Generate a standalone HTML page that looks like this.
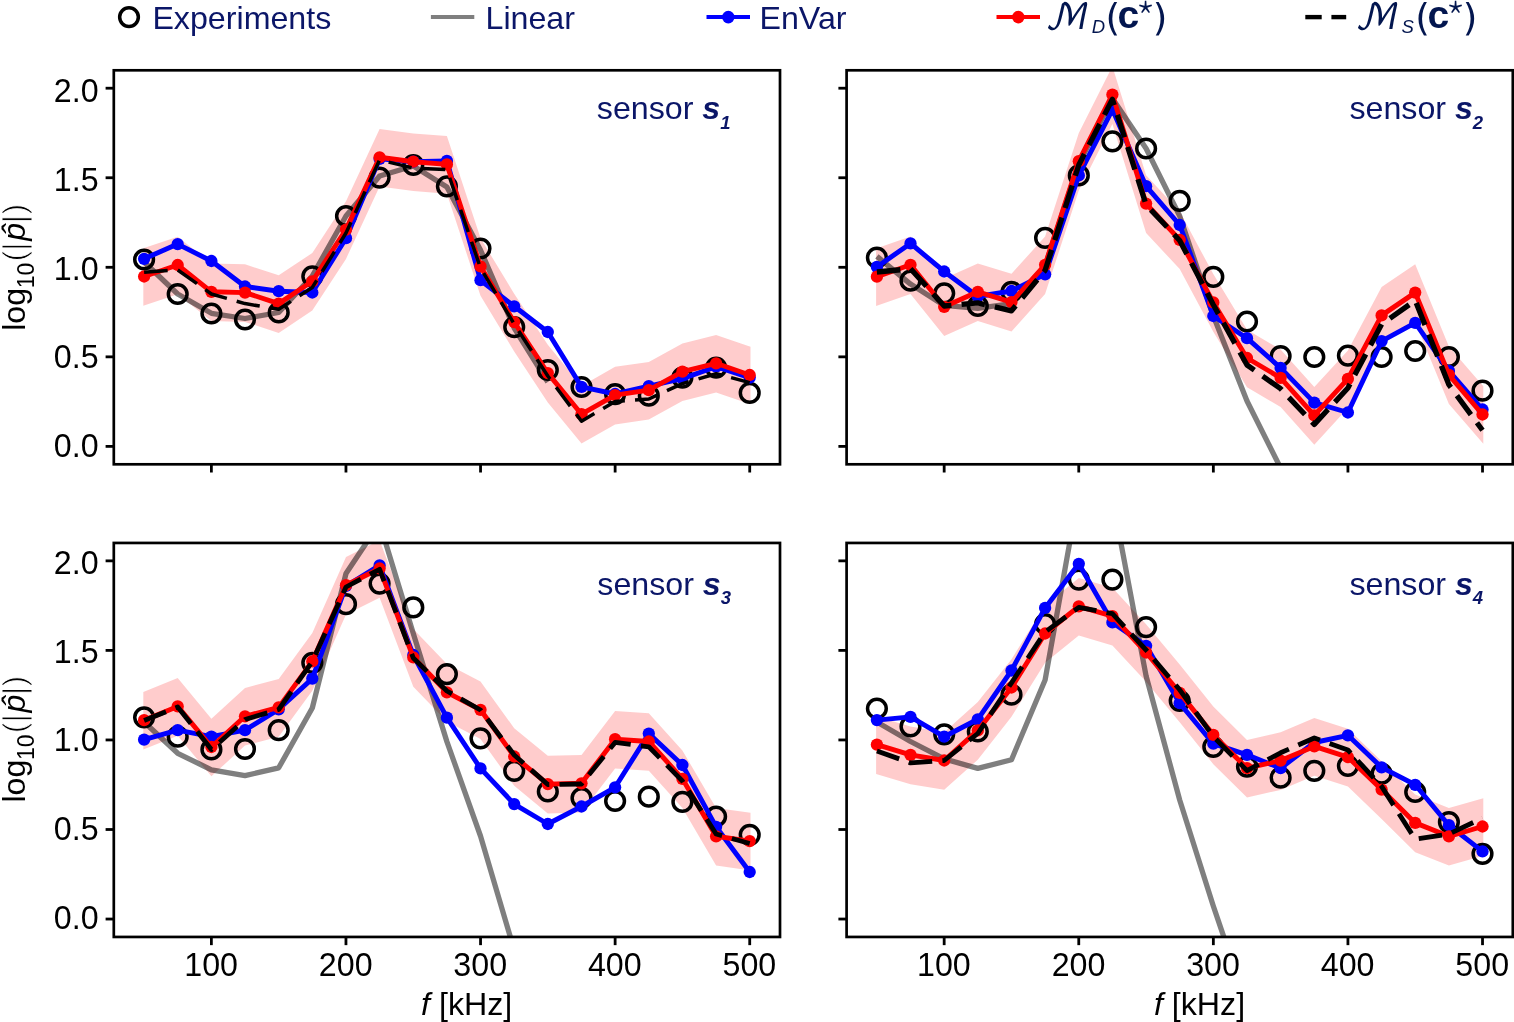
<!DOCTYPE html>
<html lang="en"><head><meta charset="utf-8"><title>Sensor spectra</title>
<style>html,body{margin:0;padding:0;background:#fff}body{width:1514px;height:1022px;overflow:hidden}svg{display:block}text{font-family:"Liberation Sans", "DejaVu Sans", sans-serif;font-size:32.2px}</style>
</head><body>
<svg width="1514" height="1022" viewBox="0 0 1514 1022">
<rect width="1514" height="1022" fill="#fff"/>
<defs>
<clipPath id="c1"><rect x="113.8" y="70.3" width="666.2" height="394.0"/></clipPath>
<clipPath id="c2"><rect x="846.6" y="70.3" width="666.2" height="394.0"/></clipPath>
<clipPath id="c3"><rect x="113.8" y="543.0" width="666.2" height="394.0"/></clipPath>
<clipPath id="c4"><rect x="846.6" y="543.0" width="666.2" height="394.0"/></clipPath>
</defs>
<g clip-path="url(#c1)">
<polygon points="143.3,248.2 177.7,236.7 211.4,263.5 245.0,264.3 278.7,275.3 312.3,253.0 346.0,201.3 379.6,129.0 413.3,133.4 446.9,136.1 480.5,238.1 514.2,293.8 547.8,344.8 581.5,385.9 615.1,366.8 648.8,361.9 682.4,343.4 716.1,335.0 750.5,346.7 750.5,404.3 716.1,392.6 682.4,401.0 648.8,419.5 615.1,424.4 581.5,443.5 547.8,402.4 514.2,351.4 480.5,295.7 446.9,193.7 413.3,191.0 379.6,186.6 346.0,258.9 312.3,310.6 278.7,332.9 245.0,321.9 211.4,321.1 177.7,294.3 143.3,305.8" fill="#ff0000" fill-opacity="0.2"/>
<polyline points="144.1,262.0 177.7,294.0 211.4,313.3 245.0,318.5 278.7,312.5 312.3,276.0 346.0,216.0 379.6,176.0 413.3,166.0 446.9,187.0 480.5,250.0 514.2,328.0 547.8,382.0" fill="none" stroke="#000" stroke-opacity="0.5" stroke-width="5.30" stroke-linejoin="round"/>
<g fill="none" stroke="#000" stroke-width="3.50">
<circle cx="144.1" cy="259.5" r="9.35"/>
<circle cx="177.7" cy="294.0" r="9.35"/>
<circle cx="211.4" cy="313.5" r="9.35"/>
<circle cx="245.0" cy="319.5" r="9.35"/>
<circle cx="278.7" cy="312.5" r="9.35"/>
<circle cx="312.3" cy="276.3" r="9.35"/>
<circle cx="346.0" cy="216.0" r="9.35"/>
<circle cx="379.6" cy="177.6" r="9.35"/>
<circle cx="413.3" cy="165.0" r="9.35"/>
<circle cx="446.9" cy="186.3" r="9.35"/>
<circle cx="480.5" cy="248.5" r="9.35"/>
<circle cx="514.2" cy="327.1" r="9.35"/>
<circle cx="547.8" cy="370.0" r="9.35"/>
<circle cx="581.5" cy="387.0" r="9.35"/>
<circle cx="615.1" cy="394.2" r="9.35"/>
<circle cx="648.8" cy="395.7" r="9.35"/>
<circle cx="682.4" cy="377.6" r="9.35"/>
<circle cx="716.1" cy="367.7" r="9.35"/>
<circle cx="749.7" cy="392.9" r="9.35"/>
</g>
<polyline points="144.1,258.8 177.7,244.1 211.4,261.0 245.0,286.5 278.7,291.2 312.3,292.5 346.0,238.2 379.6,158.8 413.3,161.7 446.9,160.9 480.5,280.2 514.2,306.3 547.8,332.0 581.5,386.8 615.1,394.0 648.8,386.2 682.4,378.6 716.1,366.7 749.7,377.6" fill="none" stroke="#0000ff" stroke-width="4.90" stroke-linejoin="round"/>
<g fill="#0000ff">
<circle cx="144.1" cy="258.8" r="6.15"/>
<circle cx="177.7" cy="244.1" r="6.15"/>
<circle cx="211.4" cy="261.0" r="6.15"/>
<circle cx="245.0" cy="286.5" r="6.15"/>
<circle cx="278.7" cy="291.2" r="6.15"/>
<circle cx="312.3" cy="292.5" r="6.15"/>
<circle cx="346.0" cy="238.2" r="6.15"/>
<circle cx="379.6" cy="158.8" r="6.15"/>
<circle cx="413.3" cy="161.7" r="6.15"/>
<circle cx="446.9" cy="160.9" r="6.15"/>
<circle cx="480.5" cy="280.2" r="6.15"/>
<circle cx="514.2" cy="306.3" r="6.15"/>
<circle cx="547.8" cy="332.0" r="6.15"/>
<circle cx="581.5" cy="386.8" r="6.15"/>
<circle cx="615.1" cy="394.0" r="6.15"/>
<circle cx="648.8" cy="386.2" r="6.15"/>
<circle cx="682.4" cy="378.6" r="6.15"/>
<circle cx="716.1" cy="366.7" r="6.15"/>
<circle cx="749.7" cy="377.6" r="6.15"/>
</g>
<polyline points="144.1,276.5 177.7,265.0 211.4,291.8 245.0,292.6 278.7,303.6 312.3,281.3 346.0,229.6 379.6,157.3 413.3,161.7 446.9,164.4 480.5,266.4 514.2,322.1 547.8,373.1 581.5,414.2 615.1,395.1 648.8,390.2 682.4,371.7 716.1,363.3 749.7,375.0" fill="none" stroke="#ff0000" stroke-width="4.90" stroke-linejoin="round"/>
<g fill="#ff0000">
<circle cx="144.1" cy="276.5" r="6.15"/>
<circle cx="177.7" cy="265.0" r="6.15"/>
<circle cx="211.4" cy="291.8" r="6.15"/>
<circle cx="245.0" cy="292.6" r="6.15"/>
<circle cx="278.7" cy="303.6" r="6.15"/>
<circle cx="312.3" cy="281.3" r="6.15"/>
<circle cx="346.0" cy="229.6" r="6.15"/>
<circle cx="379.6" cy="157.3" r="6.15"/>
<circle cx="413.3" cy="161.7" r="6.15"/>
<circle cx="446.9" cy="164.4" r="6.15"/>
<circle cx="480.5" cy="266.4" r="6.15"/>
<circle cx="514.2" cy="322.1" r="6.15"/>
<circle cx="547.8" cy="373.1" r="6.15"/>
<circle cx="581.5" cy="414.2" r="6.15"/>
<circle cx="615.1" cy="395.1" r="6.15"/>
<circle cx="648.8" cy="390.2" r="6.15"/>
<circle cx="682.4" cy="371.7" r="6.15"/>
<circle cx="716.1" cy="363.3" r="6.15"/>
<circle cx="749.7" cy="375.0" r="6.15"/>
</g>
<polyline points="144.1,272.3 177.7,269.9 211.4,294.0 245.0,303.6 278.7,309.3 312.3,287.5 346.0,233.0 379.6,160.0 413.3,168.0 446.9,169.6 480.5,268.0 514.2,324.0 547.8,376.0 581.5,421.2 615.1,401.4 648.8,399.0 682.4,383.6 716.1,373.7 749.7,382.6" fill="none" stroke="#000" stroke-width="3.50" stroke-dasharray="23.6 10.2" stroke-linejoin="round"/>
</g>
<g clip-path="url(#c2)">
<polygon points="876.1,248.4 910.5,236.5 944.2,278.5 977.8,263.5 1011.5,273.8 1045.1,236.5 1078.8,132.9 1112.4,66.3 1146.1,175.3 1179.7,211.5 1213.3,274.1 1247.0,329.7 1280.6,349.5 1314.3,387.1 1347.9,350.5 1381.6,287.1 1415.2,264.3 1448.9,346.5 1483.3,386.2 1483.3,443.8 1448.9,404.1 1415.2,321.9 1381.6,344.7 1347.9,408.1 1314.3,444.7 1280.6,407.1 1247.0,387.3 1213.3,331.7 1179.7,269.1 1146.1,232.9 1112.4,123.9 1078.8,190.5 1045.1,294.1 1011.5,331.4 977.8,321.1 944.2,336.1 910.5,294.1 876.1,306.0" fill="#ff0000" fill-opacity="0.2"/>
<polyline points="876.9,256.4 910.5,284.1 944.2,305.4 977.8,308.4 1011.5,303.5 1045.1,266.0 1078.8,163.5 1112.4,98.5 1146.1,148.5 1179.7,216.0 1213.3,315.8 1247.0,401.0 1280.6,468.0" fill="none" stroke="#000" stroke-opacity="0.5" stroke-width="5.30" stroke-linejoin="round"/>
<g fill="none" stroke="#000" stroke-width="3.50">
<circle cx="876.9" cy="257.7" r="9.35"/>
<circle cx="910.5" cy="280.7" r="9.35"/>
<circle cx="944.2" cy="293.3" r="9.35"/>
<circle cx="977.8" cy="306.0" r="9.35"/>
<circle cx="1011.5" cy="291.8" r="9.35"/>
<circle cx="1045.1" cy="237.9" r="9.35"/>
<circle cx="1078.8" cy="175.4" r="9.35"/>
<circle cx="1112.4" cy="141.3" r="9.35"/>
<circle cx="1146.1" cy="148.5" r="9.35"/>
<circle cx="1179.7" cy="200.8" r="9.35"/>
<circle cx="1213.3" cy="276.9" r="9.35"/>
<circle cx="1247.0" cy="321.5" r="9.35"/>
<circle cx="1280.6" cy="356.0" r="9.35"/>
<circle cx="1314.3" cy="357.0" r="9.35"/>
<circle cx="1347.9" cy="355.6" r="9.35"/>
<circle cx="1381.6" cy="357.0" r="9.35"/>
<circle cx="1415.2" cy="351.0" r="9.35"/>
<circle cx="1448.9" cy="357.0" r="9.35"/>
<circle cx="1482.5" cy="390.7" r="9.35"/>
</g>
<polyline points="876.9,266.9 910.5,243.4 944.2,271.5 977.8,296.5 1011.5,291.0 1045.1,274.3 1078.8,175.4 1112.4,109.6 1146.1,186.2 1179.7,225.0 1213.3,316.0 1247.0,338.2 1280.6,367.9 1314.3,402.6 1347.9,412.5 1381.6,341.1 1415.2,322.9 1448.9,370.9 1482.5,409.5" fill="none" stroke="#0000ff" stroke-width="4.90" stroke-linejoin="round"/>
<g fill="#0000ff">
<circle cx="876.9" cy="266.9" r="6.15"/>
<circle cx="910.5" cy="243.4" r="6.15"/>
<circle cx="944.2" cy="271.5" r="6.15"/>
<circle cx="977.8" cy="296.5" r="6.15"/>
<circle cx="1011.5" cy="291.0" r="6.15"/>
<circle cx="1045.1" cy="274.3" r="6.15"/>
<circle cx="1078.8" cy="175.4" r="6.15"/>
<circle cx="1112.4" cy="109.6" r="6.15"/>
<circle cx="1146.1" cy="186.2" r="6.15"/>
<circle cx="1179.7" cy="225.0" r="6.15"/>
<circle cx="1213.3" cy="316.0" r="6.15"/>
<circle cx="1247.0" cy="338.2" r="6.15"/>
<circle cx="1280.6" cy="367.9" r="6.15"/>
<circle cx="1314.3" cy="402.6" r="6.15"/>
<circle cx="1347.9" cy="412.5" r="6.15"/>
<circle cx="1381.6" cy="341.1" r="6.15"/>
<circle cx="1415.2" cy="322.9" r="6.15"/>
<circle cx="1448.9" cy="370.9" r="6.15"/>
<circle cx="1482.5" cy="409.5" r="6.15"/>
</g>
<polyline points="876.9,276.7 910.5,264.8 944.2,306.8 977.8,291.8 1011.5,302.1 1045.1,264.8 1078.8,161.2 1112.4,94.6 1146.1,203.6 1179.7,239.8 1213.3,302.4 1247.0,358.0 1280.6,377.8 1314.3,415.4 1347.9,378.8 1381.6,315.4 1415.2,292.6 1448.9,374.8 1482.5,414.5" fill="none" stroke="#ff0000" stroke-width="4.90" stroke-linejoin="round"/>
<g fill="#ff0000">
<circle cx="876.9" cy="276.7" r="6.15"/>
<circle cx="910.5" cy="264.8" r="6.15"/>
<circle cx="944.2" cy="306.8" r="6.15"/>
<circle cx="977.8" cy="291.8" r="6.15"/>
<circle cx="1011.5" cy="302.1" r="6.15"/>
<circle cx="1045.1" cy="264.8" r="6.15"/>
<circle cx="1078.8" cy="161.2" r="6.15"/>
<circle cx="1112.4" cy="94.6" r="6.15"/>
<circle cx="1146.1" cy="203.6" r="6.15"/>
<circle cx="1179.7" cy="239.8" r="6.15"/>
<circle cx="1213.3" cy="302.4" r="6.15"/>
<circle cx="1247.0" cy="358.0" r="6.15"/>
<circle cx="1280.6" cy="377.8" r="6.15"/>
<circle cx="1314.3" cy="415.4" r="6.15"/>
<circle cx="1347.9" cy="378.8" r="6.15"/>
<circle cx="1381.6" cy="315.4" r="6.15"/>
<circle cx="1415.2" cy="292.6" r="6.15"/>
<circle cx="1448.9" cy="374.8" r="6.15"/>
<circle cx="1482.5" cy="414.5" r="6.15"/>
</g>
<polyline points="876.9,272.0 910.5,268.8 944.2,306.0 977.8,302.9 1011.5,310.8 1045.1,270.4 1078.8,165.0 1112.4,99.3 1146.1,204.8 1179.7,240.5 1213.3,304.7 1247.0,365.0 1280.6,388.7 1314.3,424.4 1347.9,388.0 1381.6,324.3 1415.2,300.5 1448.9,384.7 1482.5,430.3" fill="none" stroke="#000" stroke-width="5.30" stroke-dasharray="23.6 10.2" stroke-linejoin="round"/>
</g>
<g clip-path="url(#c3)">
<polygon points="143.3,691.9 177.7,678.1 211.4,718.7 245.0,688.0 278.7,679.1 312.3,633.1 346.0,556.9 379.6,540.2 413.3,629.1 446.9,664.0 480.5,681.5 514.2,728.2 547.8,755.8 581.5,755.0 615.1,710.9 648.8,713.2 682.4,750.5 716.1,808.0 750.5,812.8 750.5,870.4 716.1,865.6 682.4,808.1 648.8,770.8 615.1,768.5 581.5,812.6 547.8,813.4 514.2,785.8 480.5,739.1 446.9,721.6 413.3,686.7 379.6,597.8 346.0,614.5 312.3,690.7 278.7,736.7 245.0,745.6 211.4,776.3 177.7,735.7 143.3,749.5" fill="#ff0000" fill-opacity="0.2"/>
<polyline points="144.1,722.0 177.7,753.3 211.4,769.8 245.0,775.7 278.7,767.8 312.3,708.0 346.0,573.5 379.6,523.0 413.3,633.5 446.9,741.6 480.5,836.0 514.2,950.0" fill="none" stroke="#000" stroke-opacity="0.5" stroke-width="5.30" stroke-linejoin="round"/>
<g fill="none" stroke="#000" stroke-width="3.50">
<circle cx="144.1" cy="717.3" r="9.35"/>
<circle cx="177.7" cy="736.7" r="9.35"/>
<circle cx="211.4" cy="749.4" r="9.35"/>
<circle cx="245.0" cy="749.0" r="9.35"/>
<circle cx="278.7" cy="730.2" r="9.35"/>
<circle cx="312.3" cy="662.8" r="9.35"/>
<circle cx="346.0" cy="604.2" r="9.35"/>
<circle cx="379.6" cy="583.6" r="9.35"/>
<circle cx="413.3" cy="607.4" r="9.35"/>
<circle cx="446.9" cy="674.1" r="9.35"/>
<circle cx="480.5" cy="738.3" r="9.35"/>
<circle cx="514.2" cy="770.8" r="9.35"/>
<circle cx="547.8" cy="791.5" r="9.35"/>
<circle cx="581.5" cy="798.0" r="9.35"/>
<circle cx="615.1" cy="801.0" r="9.35"/>
<circle cx="648.8" cy="796.7" r="9.35"/>
<circle cx="682.4" cy="801.9" r="9.35"/>
<circle cx="716.1" cy="816.5" r="9.35"/>
<circle cx="749.7" cy="834.8" r="9.35"/>
</g>
<polyline points="144.1,739.7 177.7,730.2 211.4,736.7 245.0,730.2 278.7,709.3 312.3,678.6 346.0,586.0 379.6,565.4 413.3,655.0 446.9,717.7 480.5,768.4 514.2,804.1 547.8,824.0 581.5,806.5 615.1,787.3 648.8,733.6 682.4,765.0 716.1,826.8 749.7,872.0" fill="none" stroke="#0000ff" stroke-width="4.90" stroke-linejoin="round"/>
<g fill="#0000ff">
<circle cx="144.1" cy="739.7" r="6.15"/>
<circle cx="177.7" cy="730.2" r="6.15"/>
<circle cx="211.4" cy="736.7" r="6.15"/>
<circle cx="245.0" cy="730.2" r="6.15"/>
<circle cx="278.7" cy="709.3" r="6.15"/>
<circle cx="312.3" cy="678.6" r="6.15"/>
<circle cx="346.0" cy="586.0" r="6.15"/>
<circle cx="379.6" cy="565.4" r="6.15"/>
<circle cx="413.3" cy="655.0" r="6.15"/>
<circle cx="446.9" cy="717.7" r="6.15"/>
<circle cx="480.5" cy="768.4" r="6.15"/>
<circle cx="514.2" cy="804.1" r="6.15"/>
<circle cx="547.8" cy="824.0" r="6.15"/>
<circle cx="581.5" cy="806.5" r="6.15"/>
<circle cx="615.1" cy="787.3" r="6.15"/>
<circle cx="648.8" cy="733.6" r="6.15"/>
<circle cx="682.4" cy="765.0" r="6.15"/>
<circle cx="716.1" cy="826.8" r="6.15"/>
<circle cx="749.7" cy="872.0" r="6.15"/>
</g>
<polyline points="144.1,720.2 177.7,706.4 211.4,747.0 245.0,716.3 278.7,707.4 312.3,661.4 346.0,585.2 379.6,568.5 413.3,657.4 446.9,692.3 480.5,709.8 514.2,756.5 547.8,784.1 581.5,783.3 615.1,739.2 648.8,741.5 682.4,778.8 716.1,836.3 749.7,841.1" fill="none" stroke="#ff0000" stroke-width="4.90" stroke-linejoin="round"/>
<g fill="#ff0000">
<circle cx="144.1" cy="720.2" r="6.15"/>
<circle cx="177.7" cy="706.4" r="6.15"/>
<circle cx="211.4" cy="747.0" r="6.15"/>
<circle cx="245.0" cy="716.3" r="6.15"/>
<circle cx="278.7" cy="707.4" r="6.15"/>
<circle cx="312.3" cy="661.4" r="6.15"/>
<circle cx="346.0" cy="585.2" r="6.15"/>
<circle cx="379.6" cy="568.5" r="6.15"/>
<circle cx="413.3" cy="657.4" r="6.15"/>
<circle cx="446.9" cy="692.3" r="6.15"/>
<circle cx="480.5" cy="709.8" r="6.15"/>
<circle cx="514.2" cy="756.5" r="6.15"/>
<circle cx="547.8" cy="784.1" r="6.15"/>
<circle cx="581.5" cy="783.3" r="6.15"/>
<circle cx="615.1" cy="739.2" r="6.15"/>
<circle cx="648.8" cy="741.5" r="6.15"/>
<circle cx="682.4" cy="778.8" r="6.15"/>
<circle cx="716.1" cy="836.3" r="6.15"/>
<circle cx="749.7" cy="841.1" r="6.15"/>
</g>
<polyline points="144.1,720.5 177.7,707.0 211.4,749.5 245.0,719.5 278.7,709.5 312.3,661.5 346.0,587.0 379.6,569.3 413.3,658.0 446.9,691.0 480.5,710.0 514.2,755.0 547.8,784.5 581.5,784.0 615.1,742.4 648.8,746.8 682.4,781.0 716.1,834.0 749.7,843.5" fill="none" stroke="#000" stroke-width="4.80" stroke-dasharray="23.6 10.2" stroke-linejoin="round"/>
</g>
<g clip-path="url(#c4)">
<polygon points="876.1,716.3 910.5,726.6 944.2,732.2 977.8,702.1 1011.5,659.2 1045.1,605.2 1078.8,578.0 1112.4,587.8 1146.1,624.2 1179.7,664.6 1213.3,706.6 1247.0,739.9 1280.6,732.3 1314.3,718.1 1347.9,728.8 1381.6,761.3 1415.2,794.6 1448.9,808.0 1483.3,798.2 1483.3,855.8 1448.9,865.6 1415.2,852.2 1381.6,818.9 1347.9,786.4 1314.3,775.7 1280.6,789.9 1247.0,797.5 1213.3,764.2 1179.7,722.2 1146.1,681.8 1112.4,645.4 1078.8,635.6 1045.1,662.8 1011.5,716.8 977.8,759.7 944.2,789.8 910.5,784.2 876.1,773.9" fill="#ff0000" fill-opacity="0.2"/>
<polyline points="876.9,722.0 910.5,741.5 944.2,758.9 977.8,768.4 1011.5,759.7 1045.1,680.0 1078.8,492.0 1112.4,498.0 1146.1,676.0 1179.7,800.0 1213.3,906.0 1247.0,1005.0" fill="none" stroke="#000" stroke-opacity="0.5" stroke-width="5.30" stroke-linejoin="round"/>
<g fill="none" stroke="#000" stroke-width="3.50">
<circle cx="876.9" cy="708.5" r="9.35"/>
<circle cx="910.5" cy="726.4" r="9.35"/>
<circle cx="944.2" cy="734.3" r="9.35"/>
<circle cx="977.8" cy="731.5" r="9.35"/>
<circle cx="1011.5" cy="694.7" r="9.35"/>
<circle cx="1045.1" cy="624.0" r="9.35"/>
<circle cx="1078.8" cy="579.6" r="9.35"/>
<circle cx="1112.4" cy="579.6" r="9.35"/>
<circle cx="1146.1" cy="627.1" r="9.35"/>
<circle cx="1179.7" cy="700.8" r="9.35"/>
<circle cx="1213.3" cy="746.8" r="9.35"/>
<circle cx="1247.0" cy="766.6" r="9.35"/>
<circle cx="1280.6" cy="777.7" r="9.35"/>
<circle cx="1314.3" cy="770.8" r="9.35"/>
<circle cx="1347.9" cy="765.8" r="9.35"/>
<circle cx="1381.6" cy="773.7" r="9.35"/>
<circle cx="1415.2" cy="792.0" r="9.35"/>
<circle cx="1448.9" cy="822.1" r="9.35"/>
<circle cx="1482.5" cy="853.8" r="9.35"/>
</g>
<polyline points="876.9,720.1 910.5,716.9 944.2,736.7 977.8,719.3 1011.5,670.5 1045.1,607.9 1078.8,563.8 1112.4,622.4 1146.1,645.8 1179.7,703.2 1213.3,743.7 1247.0,754.8 1280.6,768.2 1314.3,742.5 1347.9,735.3 1381.6,767.4 1415.2,784.8 1448.9,825.2 1482.5,851.4" fill="none" stroke="#0000ff" stroke-width="4.90" stroke-linejoin="round"/>
<g fill="#0000ff">
<circle cx="876.9" cy="720.1" r="6.15"/>
<circle cx="910.5" cy="716.9" r="6.15"/>
<circle cx="944.2" cy="736.7" r="6.15"/>
<circle cx="977.8" cy="719.3" r="6.15"/>
<circle cx="1011.5" cy="670.5" r="6.15"/>
<circle cx="1045.1" cy="607.9" r="6.15"/>
<circle cx="1078.8" cy="563.8" r="6.15"/>
<circle cx="1112.4" cy="622.4" r="6.15"/>
<circle cx="1146.1" cy="645.8" r="6.15"/>
<circle cx="1179.7" cy="703.2" r="6.15"/>
<circle cx="1213.3" cy="743.7" r="6.15"/>
<circle cx="1247.0" cy="754.8" r="6.15"/>
<circle cx="1280.6" cy="768.2" r="6.15"/>
<circle cx="1314.3" cy="742.5" r="6.15"/>
<circle cx="1347.9" cy="735.3" r="6.15"/>
<circle cx="1381.6" cy="767.4" r="6.15"/>
<circle cx="1415.2" cy="784.8" r="6.15"/>
<circle cx="1448.9" cy="825.2" r="6.15"/>
<circle cx="1482.5" cy="851.4" r="6.15"/>
</g>
<polyline points="876.9,744.6 910.5,754.9 944.2,760.5 977.8,730.4 1011.5,687.5 1045.1,633.5 1078.8,606.3 1112.4,616.1 1146.1,652.5 1179.7,692.9 1213.3,734.9 1247.0,768.2 1280.6,760.6 1314.3,746.4 1347.9,757.1 1381.6,789.6 1415.2,822.9 1448.9,836.3 1482.5,826.5" fill="none" stroke="#ff0000" stroke-width="4.90" stroke-linejoin="round"/>
<g fill="#ff0000">
<circle cx="876.9" cy="744.6" r="6.15"/>
<circle cx="910.5" cy="754.9" r="6.15"/>
<circle cx="944.2" cy="760.5" r="6.15"/>
<circle cx="977.8" cy="730.4" r="6.15"/>
<circle cx="1011.5" cy="687.5" r="6.15"/>
<circle cx="1045.1" cy="633.5" r="6.15"/>
<circle cx="1078.8" cy="606.3" r="6.15"/>
<circle cx="1112.4" cy="616.1" r="6.15"/>
<circle cx="1146.1" cy="652.5" r="6.15"/>
<circle cx="1179.7" cy="692.9" r="6.15"/>
<circle cx="1213.3" cy="734.9" r="6.15"/>
<circle cx="1247.0" cy="768.2" r="6.15"/>
<circle cx="1280.6" cy="760.6" r="6.15"/>
<circle cx="1314.3" cy="746.4" r="6.15"/>
<circle cx="1347.9" cy="757.1" r="6.15"/>
<circle cx="1381.6" cy="789.6" r="6.15"/>
<circle cx="1415.2" cy="822.9" r="6.15"/>
<circle cx="1448.9" cy="836.3" r="6.15"/>
<circle cx="1482.5" cy="826.5" r="6.15"/>
</g>
<polyline points="876.9,751.0 910.5,762.9 944.2,760.5 977.8,733.5 1011.5,682.8 1045.1,632.0 1078.8,607.4 1112.4,613.7 1146.1,650.0 1179.7,689.8 1213.3,736.5 1247.0,770.6 1280.6,752.8 1314.3,738.0 1347.9,750.0 1381.6,786.4 1415.2,839.2 1448.9,834.0 1482.5,818.1" fill="none" stroke="#000" stroke-width="4.80" stroke-dasharray="23.6 10.2" stroke-linejoin="round"/>
</g>
<g stroke="#000" fill="none">
<rect x="113.80" y="70.30" width="666.20" height="394.00" stroke-width="2.70"/>
<line x1="211.37" y1="464.30" x2="211.37" y2="472.50" stroke-width="2.80"/>
<line x1="345.96" y1="464.30" x2="345.96" y2="472.50" stroke-width="2.80"/>
<line x1="480.55" y1="464.30" x2="480.55" y2="472.50" stroke-width="2.80"/>
<line x1="615.13" y1="464.30" x2="615.13" y2="472.50" stroke-width="2.80"/>
<line x1="749.72" y1="464.30" x2="749.72" y2="472.50" stroke-width="2.80"/>
<line x1="105.60" y1="446.39" x2="113.80" y2="446.39" stroke-width="2.80"/>
<line x1="105.60" y1="356.85" x2="113.80" y2="356.85" stroke-width="2.80"/>
<line x1="105.60" y1="267.30" x2="113.80" y2="267.30" stroke-width="2.80"/>
<line x1="105.60" y1="177.75" x2="113.80" y2="177.75" stroke-width="2.80"/>
<line x1="105.60" y1="88.21" x2="113.80" y2="88.21" stroke-width="2.80"/>
</g>
<text transform="translate(98.6,102.0) scale(1,1.040)" text-anchor="end">2.0</text>
<text transform="translate(98.6,190.7) scale(1,1.040)" text-anchor="end">1.5</text>
<text transform="translate(98.6,279.5) scale(1,1.040)" text-anchor="end">1.0</text>
<text transform="translate(98.6,368.2) scale(1,1.040)" text-anchor="end">0.5</text>
<text transform="translate(98.6,456.9) scale(1,1.040)" text-anchor="end">0.0</text>
<g transform="translate(24.8,330.8) rotate(-90)"><text x="0" y="0">log</text><text x="42.5" y="8.7" style="font-size:23px">10</text><text x="69.3" y="0" stroke="#fff" stroke-width="0.9">(</text><text x="80.1" y="0" stroke="#fff" stroke-width="0.9">|</text><text x="90.0" y="0" font-style="italic">p̂</text><text x="107.5" y="0" stroke="#fff" stroke-width="0.9">|</text><text x="116.2" y="0" stroke="#fff" stroke-width="0.9">)</text></g>
<text x="596.8" y="119.2" fill="#0b1668">sensor <tspan font-weight="bold" font-style="italic">s</tspan><tspan font-weight="bold" font-style="italic" font-size="18.5" dy="9.5">1</tspan></text>
<g stroke="#000" fill="none">
<rect x="846.60" y="70.30" width="666.20" height="394.00" stroke-width="2.70"/>
<line x1="944.17" y1="464.30" x2="944.17" y2="472.50" stroke-width="2.80"/>
<line x1="1078.76" y1="464.30" x2="1078.76" y2="472.50" stroke-width="2.80"/>
<line x1="1213.35" y1="464.30" x2="1213.35" y2="472.50" stroke-width="2.80"/>
<line x1="1347.93" y1="464.30" x2="1347.93" y2="472.50" stroke-width="2.80"/>
<line x1="1482.52" y1="464.30" x2="1482.52" y2="472.50" stroke-width="2.80"/>
<line x1="838.40" y1="446.39" x2="846.60" y2="446.39" stroke-width="2.80"/>
<line x1="838.40" y1="356.85" x2="846.60" y2="356.85" stroke-width="2.80"/>
<line x1="838.40" y1="267.30" x2="846.60" y2="267.30" stroke-width="2.80"/>
<line x1="838.40" y1="177.75" x2="846.60" y2="177.75" stroke-width="2.80"/>
<line x1="838.40" y1="88.21" x2="846.60" y2="88.21" stroke-width="2.80"/>
</g>
<text x="1349.4" y="119.0" fill="#0b1668">sensor <tspan font-weight="bold" font-style="italic">s</tspan><tspan font-weight="bold" font-style="italic" font-size="18.5" dy="9.5">2</tspan></text>
<g stroke="#000" fill="none">
<rect x="113.80" y="542.95" width="666.20" height="394.00" stroke-width="2.70"/>
<line x1="211.37" y1="936.95" x2="211.37" y2="945.15" stroke-width="2.80"/>
<line x1="345.96" y1="936.95" x2="345.96" y2="945.15" stroke-width="2.80"/>
<line x1="480.55" y1="936.95" x2="480.55" y2="945.15" stroke-width="2.80"/>
<line x1="615.13" y1="936.95" x2="615.13" y2="945.15" stroke-width="2.80"/>
<line x1="749.72" y1="936.95" x2="749.72" y2="945.15" stroke-width="2.80"/>
<line x1="105.60" y1="919.04" x2="113.80" y2="919.04" stroke-width="2.80"/>
<line x1="105.60" y1="829.50" x2="113.80" y2="829.50" stroke-width="2.80"/>
<line x1="105.60" y1="739.95" x2="113.80" y2="739.95" stroke-width="2.80"/>
<line x1="105.60" y1="650.40" x2="113.80" y2="650.40" stroke-width="2.80"/>
<line x1="105.60" y1="560.86" x2="113.80" y2="560.86" stroke-width="2.80"/>
</g>
<text transform="translate(98.6,573.8) scale(1,1.040)" text-anchor="end">2.0</text>
<text transform="translate(98.6,662.6) scale(1,1.040)" text-anchor="end">1.5</text>
<text transform="translate(98.6,751.4) scale(1,1.040)" text-anchor="end">1.0</text>
<text transform="translate(98.6,840.2) scale(1,1.040)" text-anchor="end">0.5</text>
<text transform="translate(98.6,929.0) scale(1,1.040)" text-anchor="end">0.0</text>
<g transform="translate(24.8,802.6) rotate(-90)"><text x="0" y="0">log</text><text x="42.5" y="8.7" style="font-size:23px">10</text><text x="69.3" y="0" stroke="#fff" stroke-width="0.9">(</text><text x="80.1" y="0" stroke="#fff" stroke-width="0.9">|</text><text x="90.0" y="0" font-style="italic">p̂</text><text x="107.5" y="0" stroke="#fff" stroke-width="0.9">|</text><text x="116.2" y="0" stroke="#fff" stroke-width="0.9">)</text></g>
<text transform="translate(211.1,976.3) scale(1,1.040)" text-anchor="middle">100</text>
<text transform="translate(345.7,976.3) scale(1,1.040)" text-anchor="middle">200</text>
<text transform="translate(480.2,976.3) scale(1,1.040)" text-anchor="middle">300</text>
<text transform="translate(614.8,976.3) scale(1,1.040)" text-anchor="middle">400</text>
<text transform="translate(749.4,976.3) scale(1,1.040)" text-anchor="middle">500</text>
<text x="466.7" y="1014.5" text-anchor="middle"><tspan font-style="italic">f</tspan> [kHz]</text>
<text x="597.3" y="594.9" fill="#0b1668">sensor <tspan font-weight="bold" font-style="italic">s</tspan><tspan font-weight="bold" font-style="italic" font-size="18.5" dy="9.5">3</tspan></text>
<g stroke="#000" fill="none">
<rect x="846.60" y="542.95" width="666.20" height="394.00" stroke-width="2.70"/>
<line x1="944.17" y1="936.95" x2="944.17" y2="945.15" stroke-width="2.80"/>
<line x1="1078.76" y1="936.95" x2="1078.76" y2="945.15" stroke-width="2.80"/>
<line x1="1213.35" y1="936.95" x2="1213.35" y2="945.15" stroke-width="2.80"/>
<line x1="1347.93" y1="936.95" x2="1347.93" y2="945.15" stroke-width="2.80"/>
<line x1="1482.52" y1="936.95" x2="1482.52" y2="945.15" stroke-width="2.80"/>
<line x1="838.40" y1="919.04" x2="846.60" y2="919.04" stroke-width="2.80"/>
<line x1="838.40" y1="829.50" x2="846.60" y2="829.50" stroke-width="2.80"/>
<line x1="838.40" y1="739.95" x2="846.60" y2="739.95" stroke-width="2.80"/>
<line x1="838.40" y1="650.40" x2="846.60" y2="650.40" stroke-width="2.80"/>
<line x1="838.40" y1="560.86" x2="846.60" y2="560.86" stroke-width="2.80"/>
</g>
<text transform="translate(943.9,976.3) scale(1,1.040)" text-anchor="middle">100</text>
<text transform="translate(1078.5,976.3) scale(1,1.040)" text-anchor="middle">200</text>
<text transform="translate(1213.0,976.3) scale(1,1.040)" text-anchor="middle">300</text>
<text transform="translate(1347.6,976.3) scale(1,1.040)" text-anchor="middle">400</text>
<text transform="translate(1482.2,976.3) scale(1,1.040)" text-anchor="middle">500</text>
<text x="1199.5" y="1014.5" text-anchor="middle"><tspan font-style="italic">f</tspan> [kHz]</text>
<text x="1349.4" y="594.9" fill="#0b1668">sensor <tspan font-weight="bold" font-style="italic">s</tspan><tspan font-weight="bold" font-style="italic" font-size="18.5" dy="9.5">4</tspan></text>
<circle cx="129" cy="17.1" r="9.35" fill="none" stroke="#000" stroke-width="3.50"/>
<text x="152.4" y="29.1" fill="#0b1668">Experiments</text>
<line x1="430.9" y1="17.1" x2="474.3" y2="17.1" stroke="#000" stroke-opacity="0.5" stroke-width="4.00"/>
<text x="485.5" y="29.1" fill="#0b1668">Linear</text>
<line x1="706.5" y1="17.1" x2="750.0" y2="17.1" stroke="#0000ff" stroke-width="4.00"/>
<circle cx="728.3" cy="17.1" r="6.30" fill="#0000ff"/>
<text x="759.5" y="29.1" fill="#0b1668">EnVar</text>
<line x1="996.5" y1="17.1" x2="1040.0" y2="17.1" stroke="#ff0000" stroke-width="4.00"/>
<circle cx="1018.3" cy="17.1" r="6.30" fill="#ff0000"/>
<text x="1045.1" y="28.5" fill="#03164f" style="font-size:35.4px;font-family:'DejaVu Math TeX Gyre','DejaVu Sans',serif">ℳ</text><text x="1091.7" y="32.8" font-style="italic" fill="#03164f" style="font-size:18.5px">D</text><text x="1105.4" y="30.3" fill="#03164f" style="font-size:37.5px;font-family:'DejaVu Sans',sans-serif">(</text><text x="1117.5" y="28.3" font-weight="bold" fill="#03164f" style="font-size:39px">c</text><text x="1136.8" y="14.5" fill="#03164f" style="font-size:28px;font-family:'DejaVu Math TeX Gyre','DejaVu Sans',serif">⋆</text><text x="1152.8" y="30.3" fill="#03164f" style="font-size:37.5px;font-family:'DejaVu Sans',sans-serif">)</text>
<line x1="1305.3" y1="17.1" x2="1321.7" y2="17.1" stroke="#000" stroke-width="4.4"/><line x1="1331.4" y1="17.1" x2="1346.2" y2="17.1" stroke="#000" stroke-width="4.4"/>
<text x="1355.0" y="28.5" fill="#03164f" style="font-size:35.4px;font-family:'DejaVu Math TeX Gyre','DejaVu Sans',serif">ℳ</text><text x="1401.6" y="32.8" font-style="italic" fill="#03164f" style="font-size:18.5px">S</text><text x="1415.3" y="30.3" fill="#03164f" style="font-size:37.5px;font-family:'DejaVu Sans',sans-serif">(</text><text x="1427.4" y="28.3" font-weight="bold" fill="#03164f" style="font-size:39px">c</text><text x="1446.7" y="14.5" fill="#03164f" style="font-size:28px;font-family:'DejaVu Math TeX Gyre','DejaVu Sans',serif">⋆</text><text x="1462.7" y="30.3" fill="#03164f" style="font-size:37.5px;font-family:'DejaVu Sans',sans-serif">)</text>
</svg>
</body></html>
